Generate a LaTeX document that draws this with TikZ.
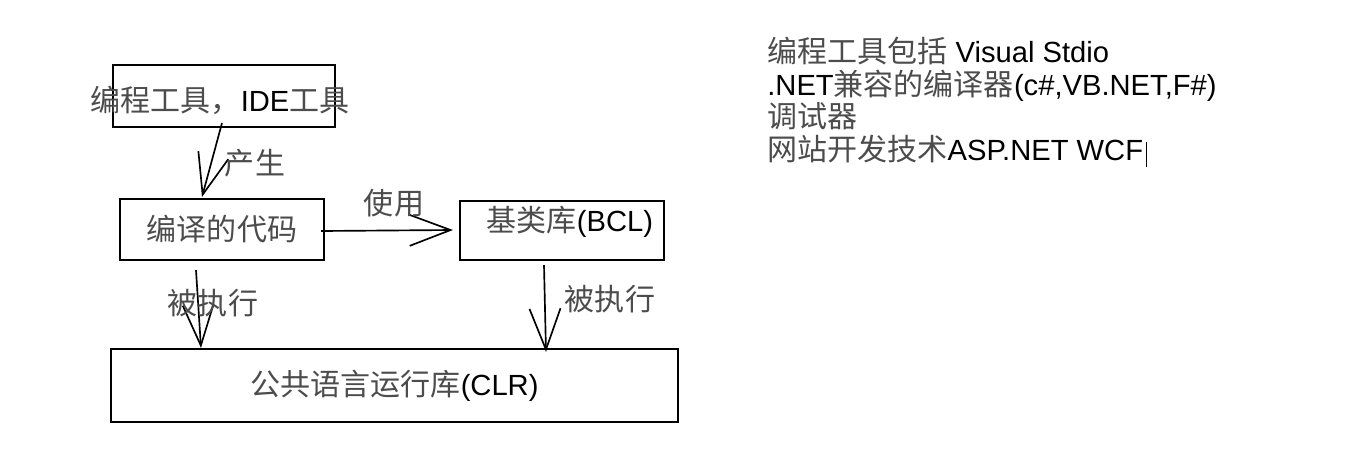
\documentclass[tikz,border=0pt]{standalone}
\usepackage{fontspec}
\setmainfont{Liberation Sans}
\newfontfamily\cjk{Noto Sans CJK SC}[Scale=1.03]
\usepackage{xcolor}
\usetikzlibrary{calc,arrows.meta}
\definecolor{zhgray}{gray}{0.3}
\newcommand{\zh}[1]{{\cjk\color{zhgray}#1}}

\begin{document}
\begin{tikzpicture}[x=0.02cm,y=-0.02cm,
    every node/.style={font=\fontsize{16.6pt}{19pt}\selectfont},
    box/.style={draw,line width=1.2pt,inner sep=0pt},
    flow/.style={line width=0.95pt,-{Straight Barb[length=0.82cm,width=0.62cm]}}]
    \useasboundingbox (0,0) rectangle (1346,467);
    % boxes
    \node[box,minimum width=4.44cm,minimum height=1.24cm] (ide) at (224,96) {};
    \node (idetxt) at (220,100) {\zh{编程工具，}IDE\zh{工具}};
    \node[box,minimum width=4.08cm,minimum height=1.22cm] (code) at (222,229.5) {\zh{编译的代码}};
    \node[box,minimum width=4.08cm,minimum height=1.18cm] (bcl) at (562,230.5) {};
    \node (bcltxt) at (570,222) {\zh{基类库}(BCL)};
    \node[box,minimum width=11.34cm,minimum height=1.46cm] (clr) at (394.5,385.5) {\zh{公共语言运行库}(CLR)};
    % arrows
    \draw[flow] ($(ide.south)+(-2,-5)$) -- ($(code.north)+(-20,-1)$);
    \node (gen) at (255,163) {\zh{产生}};
    \draw[flow] ($(code.east)+(-4,1.5)$) -- ($(bcl.west)+(-6,-0.5)$);
    \node (use) at (394,203) {\zh{使用}};
    \draw[flow] ($(code.south)+(-26,9)$) -- ($(clr.north west)+(91,0)$);
    \node (run1) at (213,303) {\zh{被执行}};
    \draw[flow] ($(bcl.south)+(-18,4)$) -- ($(clr.north west)+(436,4)$);
    \node (run2) at (610,299) {\zh{被执行}};
    % notes on the right
    \node[anchor=base west,inner sep=0pt] (r1) at (767,62) {\zh{编程工具包括} Visual Stdio};
    \node[anchor=base west,inner sep=0pt] (r2) at (767,95) {.NET\zh{兼容的编译器}(c\#,VB.NET,F\#)};
    \node[anchor=base west,inner sep=0pt] (r3) at (767,127) {\zh{调试器}};
    \node[anchor=base west,inner sep=0pt] (r4) at (767,160) {\zh{网站开发技术}ASP.NET WCF};
    \draw[line width=0.5pt] ($(r4.base east)+(3,7)$) -- ($(r4.base east)+(3,-18)$);
\end{tikzpicture}
\end{document}
